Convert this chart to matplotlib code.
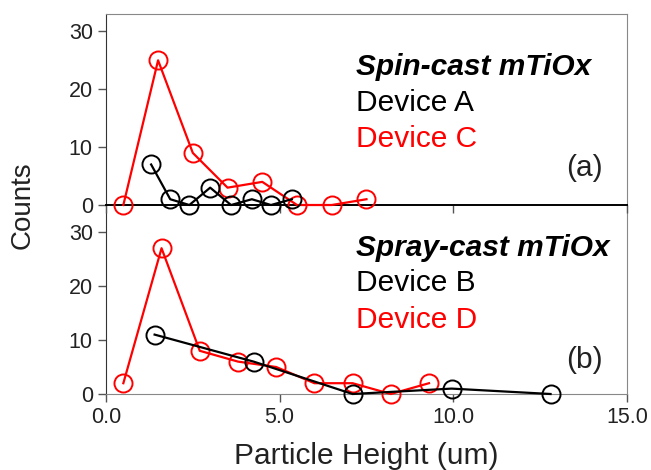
import matplotlib
matplotlib.use("Agg")
import matplotlib.pyplot as plt

plt.rcParams['font.family'] = ['Liberation Sans', 'DejaVu Sans']

# panel (a): spin-cast
a_x = [1.3, 1.85, 2.4, 3.0, 3.6, 4.2, 4.75, 5.35]
a_y = [7, 1, 0, 3, 0, 1, 0, 1]
c_x = [0.5, 1.5, 2.5, 3.5, 4.5, 5.5, 6.5, 7.5]
c_y = [0, 25, 9, 3, 4, 0, 0, 1]

# panel (b): spray-cast
b_x = [1.4, 4.25, 7.1, 9.95, 12.8]
b_y = [11, 6, 0, 1, 0]
d_x = [0.5, 1.6, 2.7, 3.8, 4.9, 6.0, 7.1, 8.2, 9.3]
d_y = [2, 27, 8, 6, 5, 2, 2, 0, 2]

x_ticks = [0, 5, 10, 15]
x_labels = ["0.0", "5.0", "10.0", "15.0"]
y_ticks = [0, 10, 20, 30]

fig = plt.figure(figsize=(6.51, 4.70), dpi=100)
left, width = 0.1628, 0.8003
ax2 = fig.add_axes([left, 0.1617, width, 0.4021])
ax1 = fig.add_axes([left, 0.5638, width, 0.4064])
ax1.patch.set_alpha(0)

gray = "#888888"
mk = dict(marker='o', markersize=13, markerfacecolor='none', markeredgewidth=1.4,
          linewidth=1.6, clip_on=False)

ax1.plot(a_x, a_y, color='black', zorder=4, **mk)
ax1.plot(c_x, c_y, color='#ff0000', zorder=3, **mk)
ax2.plot(b_x, b_y, color='black', zorder=4, **mk)
ax2.plot(d_x, d_y, color='#ff0000', zorder=3, **mk)

for ax, top in [(ax1, 33), (ax2, 35)]:
    ax.set_xlim(0, 15)
    ax.set_ylim(0, top)
    ax.set_xticks(x_ticks)
    ax.set_yticks(y_ticks)
    ax.tick_params(axis='both', direction='out', length=6, width=1, color='#555555',
                   labelsize=15.5, labelcolor='#222222')
    ax.spines['top'].set_color(gray)
    ax.spines['right'].set_color(gray)
    ax.spines['left'].set_color('#333333')

ax1.spines['bottom'].set_color('black')
ax1.spines['bottom'].set_linewidth(1.4)
ax1.tick_params(axis='x', labelbottom=False)
ax2.spines['top'].set_visible(False)
ax2.spines['bottom'].set_color(gray)
ax2.set_xticklabels(x_labels)

ax2.set_xlabel("Particle Height (um)", fontsize=21.5, color='#222222', labelpad=10)
fig.text(0.035, 0.563, "Counts", rotation=90, fontsize=20, color='#222222',
         ha='center', va='center')

fs = 21.5
tx = 0.48
ax1.text(tx, 0.72, "Spin-cast mTiOx", transform=ax1.transAxes, fontsize=fs,
         fontweight='bold', fontstyle='italic', va='center')
ax1.text(tx, 0.534, "Device A", transform=ax1.transAxes, fontsize=fs, color='black', va='center')
ax1.text(tx, 0.346, "Device C", transform=ax1.transAxes, fontsize=fs, color='#ff0000', va='center')
ax1.text(0.953, 0.194, "(a)", transform=ax1.transAxes, fontsize=fs, ha='right', va='center', color='#222222')

ax2.text(tx, 0.772, "Spray-cast mTiOx", transform=ax2.transAxes, fontsize=fs,
         fontweight='bold', fontstyle='italic', va='center')
ax2.text(tx, 0.587, "Device B", transform=ax2.transAxes, fontsize=fs, color='black', va='center')
ax2.text(tx, 0.392, "Device D", transform=ax2.transAxes, fontsize=fs, color='#ff0000', va='center')
ax2.text(0.953, 0.18, "(b)", transform=ax2.transAxes, fontsize=fs, ha='right', va='center', color='#222222')

fig.savefig("out.png", dpi=100)
